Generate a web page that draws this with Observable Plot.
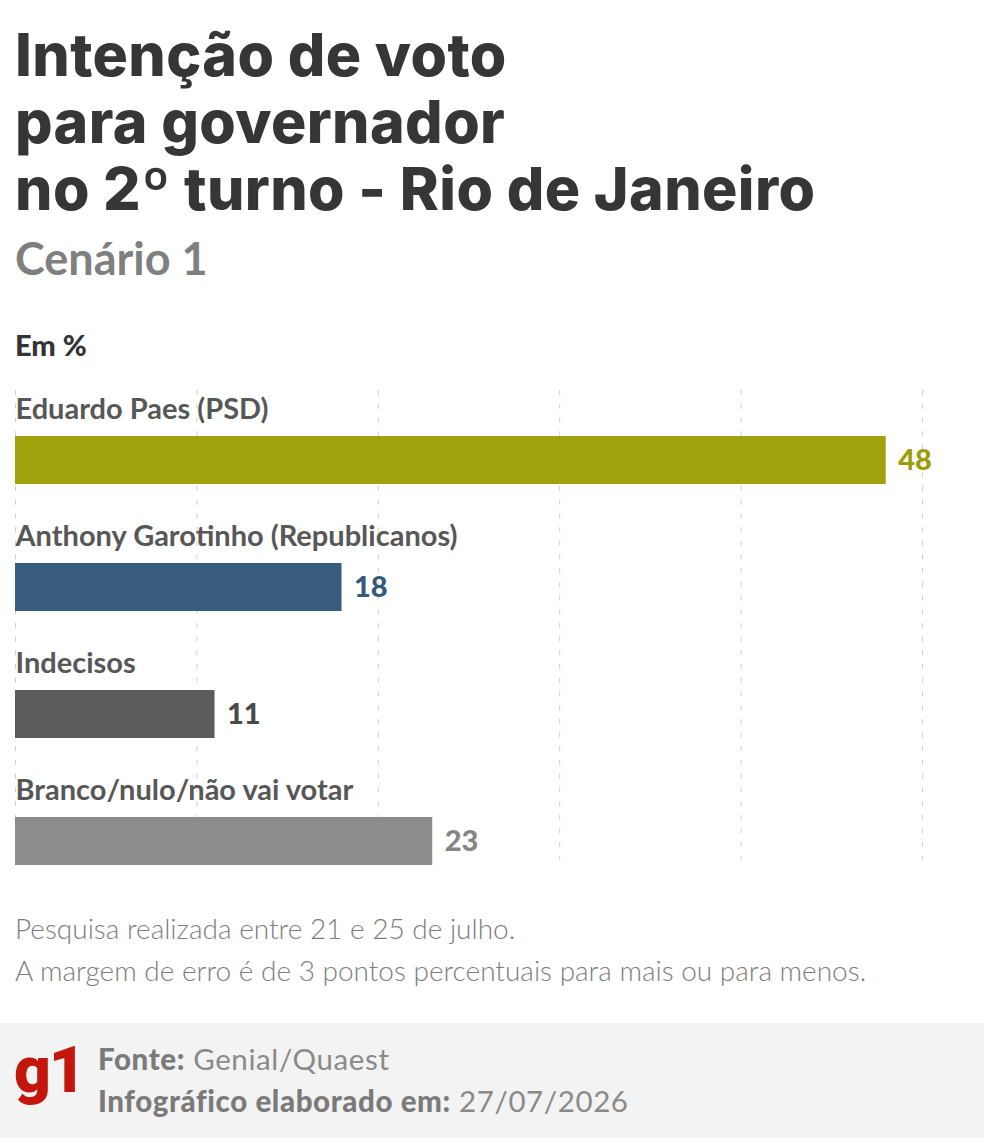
<!DOCTYPE html>
<html lang="pt-BR">
<head>
<meta charset="utf-8">
<script src="https://cdn.jsdelivr.net/npm/d3@7"></script>
<script src="https://cdn.jsdelivr.net/npm/@observablehq/plot@0.6"></script>
<style>
  html, body { margin: 0; padding: 0; background: #fff; }
  body { width: 984px; height: 1138px; position: relative; overflow: hidden; font-family: Lato, "Open Sans", sans-serif; }
  .abs { position: absolute; left: 15px; white-space: nowrap; }
  #title { top: 21px; font-family: Inter, Lato, sans-serif; font-size: 59px; font-weight: 800; color: #363636; line-height: 67px; letter-spacing: 0.4px; }
  #subtitle { top: 230px; font-size: 45px; font-weight: 700; color: #7f7f7f; line-height: 56px; }
  #unit { top: 327px; font-size: 29px; font-weight: 900; color: #333; line-height: 36px; }
  #chart { position: absolute; left: 0; top: 380px; }
  .note { font-size: 28px; font-weight: 300; color: #7d7d7d; line-height: 30px; }
  #note1 { top: 913px; }
  #note2 { top: 955px; }
  #footer { position: absolute; left: 0; top: 1023px; width: 984px; height: 115px; background: #f3f3f3; }
  #logo { position: absolute; left: 14px; top: 8px; color: #c4170c; font-family: Roboto, Inter, sans-serif; font-weight: 900; font-size: 64px; line-height: 80px; letter-spacing: -2px; }
  .src { position: absolute; left: 98px; font-size: 29.5px; color: #8a8a8a; font-weight: 400; line-height: 34px; letter-spacing: 0.6px; }
  .src b { font-weight: 900; color: #7a7a7a; }
  #src1 { top: 19px; }
  #src2 { top: 61px; }
</style>
</head>
<body>
<div id="title" class="abs">Intenção de voto<br>para governador<br>no 2º turno - Rio de Janeiro</div>
<div id="subtitle" class="abs">Cenário 1</div>
<div id="unit" class="abs">Em %</div>
<div id="chart"></div>
<div id="note1" class="abs note">Pesquisa realizada entre 21 e 25 de julho.</div>
<div id="note2" class="abs note">A margem de erro é de 3 pontos percentuais para mais ou para menos.</div>
<div id="footer">
  <div id="logo">g1</div>
  <div id="src1" class="src"><b>Fonte:</b> Genial/Quaest</div>
  <div id="src2" class="src"><b>Infográfico elaborado em:</b> 27/07/2026</div>
</div>
<script>
// Segundo turno, cenário 1 (em %)
const categories = [
  "Eduardo Paes (PSD)",
  "Anthony Garotinho (Republicanos)",
  "Indecisos",
  "Branco/nulo/não vai votar"
];
const values = [48, 18, 11, 23];
const gridTicks = [0, 10, 20, 30, 40, 50];

const rows = categories.map((name, i) => ({name, value: values[i]}));

const barFill = ["#a0a10d", "#375c7d", "#5b5b5b", "#8c8c8c"];
const labelFill = ["#9c9d0c", "#355a7b", "#4a4a4a", "#858585"];
const labelColor = Object.fromEntries(categories.map((c, i) => [c, labelFill[i]]));

const chart = Plot.plot({
  width: 984,
  height: 520,
  marginLeft: 15,
  marginRight: 62,
  marginTop: 10,
  marginBottom: 2,
  style: {fontFamily: "Lato, sans-serif", background: "transparent"},
  x: {domain: [0, 50], axis: null},
  y: {domain: categories, axis: null, padding: 0},
  color: {domain: categories, range: barFill},
  marks: [
    Plot.ruleX(gridTicks, {stroke: "#cfcfcf", strokeWidth: 1, strokeDasharray: "5,8.7", insetBottom: 38}),
    Plot.barX(rows, {x: "value", y: "name", fill: "name", insetTop: 46, insetBottom: 33}),
    Plot.text(rows, {
      x: 0, y: "name", text: "name", textAnchor: "start", lineAnchor: "bottom",
      dy: -35.5, fontSize: 29, fontWeight: 700, fill: "#575757"
    }),
    Plot.text(rows, {
      x: "value", y: "name", text: d => String(d.value), textAnchor: "start", lineAnchor: "middle",
      dx: 12, dy: 6.5, fontSize: 29, fontWeight: 900, fill: d => labelColor[d.name]
    })
  ]
});
document.getElementById("chart").appendChild(chart);
</script>
</body>
</html>
